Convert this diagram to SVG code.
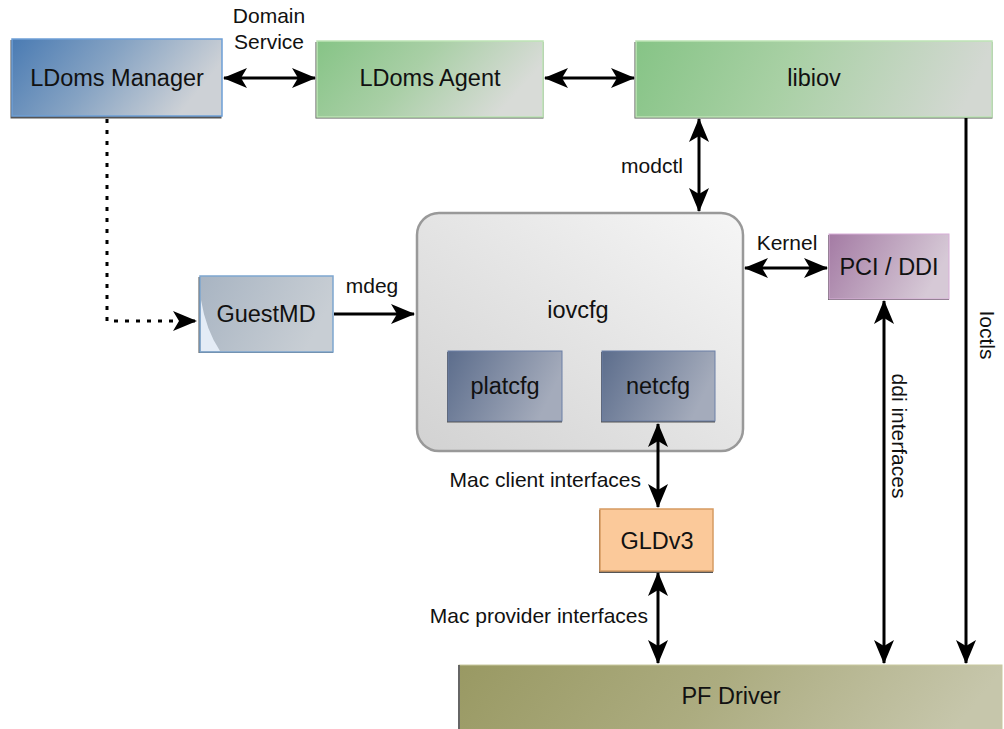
<svg xmlns="http://www.w3.org/2000/svg" width="1004" height="729" viewBox="0 0 1004 729">
<style>
.lbl{font-family:"Liberation Sans",Arial,sans-serif;font-size:21px;fill:#111}
.nt{font-family:"Liberation Sans",Arial,sans-serif;font-size:23.5px;fill:#111;text-anchor:middle}
.ln{fill:none;stroke:#000;stroke-width:3}
.sh{fill:#555}
</style>
<defs>
<marker id="ah" viewBox="0 0 24 20" refX="23" refY="10" markerWidth="24" markerHeight="20" markerUnits="userSpaceOnUse" orient="auto-start-reverse">
<path d="M0,0 L24,10 L0,20 L6,10 z" fill="#000"/>
</marker>
<linearGradient id="gBlue" x1="0" y1="0" x2="1" y2="0.3">
<stop offset="0" stop-color="#4a7bb3"/><stop offset="0.5" stop-color="#86a3c3"/><stop offset="1" stop-color="#cdd1d6"/>
</linearGradient>
<linearGradient id="gGreen" x1="0" y1="0" x2="1" y2="0.3">
<stop offset="0" stop-color="#86c486"/><stop offset="0.5" stop-color="#a9cfa6"/><stop offset="1" stop-color="#d8dbd7"/>
</linearGradient>
<linearGradient id="gGreen2" x1="0" y1="0" x2="1" y2="0.1">
<stop offset="0" stop-color="#86c486"/><stop offset="0.45" stop-color="#a8d0a4"/><stop offset="1" stop-color="#d3d8d2"/>
</linearGradient>
<linearGradient id="gGuest" x1="0" y1="0" x2="1" y2="0.3">
<stop offset="0" stop-color="#a8b4c2"/><stop offset="1" stop-color="#c8ced4"/>
</linearGradient>
<linearGradient id="gIov" x1="0" y1="1" x2="1" y2="0">
<stop offset="0" stop-color="#d2d2d2"/><stop offset="1" stop-color="#f6f6f6"/>
</linearGradient>
<linearGradient id="gCfg" x1="0" y1="0" x2="1" y2="0.3">
<stop offset="0" stop-color="#5c6d8c"/><stop offset="1" stop-color="#a4abbb"/>
</linearGradient>
<linearGradient id="gPci" x1="0" y1="0" x2="1" y2="0.3">
<stop offset="0" stop-color="#a47ba4"/><stop offset="1" stop-color="#d6c9d6"/>
</linearGradient>
<linearGradient id="gPf" x1="0" y1="0" x2="1" y2="0.1">
<stop offset="0" stop-color="#999963"/><stop offset="0.5" stop-color="#acac80"/><stop offset="1" stop-color="#c6c6ab"/>
</linearGradient>
</defs>

<g id="ldoms-manager">
<rect class="sh" x="10.5" y="40" width="211" height="78.5"/>
<rect x="12" y="39" width="210" height="77" fill="url(#gBlue)" stroke="#6d9fd6" stroke-width="1.5"/>
<text class="nt" x="117" y="86">LDoms Manager</text>
</g>
<g id="ldoms-agent">
<rect class="sh" x="315.5" y="42" width="228" height="76.5"/>
<rect x="317" y="41" width="226" height="76" fill="url(#gGreen)" stroke="#bde3b5" stroke-width="1.5"/>
<text class="nt" x="430" y="86">LDoms Agent</text>
</g>
<g id="libiov">
<rect class="sh" x="634.5" y="42" width="358" height="76.5"/>
<rect x="636" y="41" width="356" height="76" fill="url(#gGreen2)" stroke="#bde3b5" stroke-width="1.5"/>
<text class="nt" x="814" y="86">libiov</text>
</g>
<g id="guestmd">
<rect class="sh" x="198.5" y="277" width="134.5" height="76"/>
<rect x="200" y="276" width="133" height="76" fill="url(#gGuest)" stroke="#7ea6cf" stroke-width="1.5"/>
<path d="M201,300 Q206,330 220,351 L201,351 z" fill="#e4ecf6"/>
<text class="nt" x="266" y="322">GuestMD</text>
</g>
<g id="iovcfg">
<rect x="417" y="213" width="326" height="238" rx="22" ry="22" fill="url(#gIov)" stroke="#999" stroke-width="2.5"/>
<text class="nt" x="578" y="318">iovcfg</text>
</g>
<g id="platcfg">
<rect class="sh" x="447" y="352" width="115" height="70.5"/>
<rect x="448" y="351" width="114" height="70" fill="url(#gCfg)" stroke="#6a7fa6" stroke-width="1"/>
<text class="nt" x="505" y="394">platcfg</text>
</g>
<g id="netcfg">
<rect class="sh" x="601" y="352" width="114" height="70.5"/>
<rect x="602" y="351" width="113" height="70" fill="url(#gCfg)" stroke="#6a7fa6" stroke-width="1"/>
<text class="nt" x="658" y="394">netcfg</text>
</g>
<g id="pci-ddi">
<rect class="sh" x="828" y="235" width="121" height="65"/>
<rect x="829" y="234" width="120" height="65" fill="url(#gPci)" stroke="#d8aed8" stroke-width="1"/>
<text class="nt" x="889" y="275">PCI / DDI</text>
</g>
<g id="gldv3">
<rect class="sh" x="599" y="510" width="114" height="63"/>
<rect x="600" y="509" width="113" height="62" fill="#fbc99a" stroke="#d69b62" stroke-width="1.5"/>
<text class="nt" x="657" y="549">GLDv3</text>
</g>
<g id="pf-driver">
<rect x="459" y="665" width="543" height="66" fill="url(#gPf)" stroke="#c9c9a0" stroke-width="1"/>
<rect x="458" y="665" width="2" height="66" fill="#666"/>
<text class="nt" x="731" y="704">PF Driver</text>
</g>

<g id="connectors">
<line class="ln" x1="224" y1="78" x2="315" y2="78" marker-start="url(#ah)" marker-end="url(#ah)"/>
<line class="ln" x1="545" y1="78" x2="634" y2="78" marker-start="url(#ah)" marker-end="url(#ah)"/>
<line class="ln" x1="699" y1="119" x2="699" y2="211" marker-start="url(#ah)" marker-end="url(#ah)"/>
<path class="ln" d="M107,119 L107,321 L196,321" stroke-dasharray="4 7" marker-end="url(#ah)"/>
<line class="ln" x1="334" y1="314" x2="414" y2="314" marker-end="url(#ah)"/>
<line class="ln" x1="745" y1="268" x2="827" y2="268" marker-start="url(#ah)" marker-end="url(#ah)"/>
<line class="ln" x1="658" y1="424" x2="658" y2="507" marker-start="url(#ah)" marker-end="url(#ah)"/>
<line class="ln" x1="658" y1="573" x2="658" y2="663" marker-start="url(#ah)" marker-end="url(#ah)"/>
<line class="ln" x1="884" y1="301" x2="884" y2="663" marker-start="url(#ah)" marker-end="url(#ah)"/>
<line class="ln" x1="966" y1="118" x2="966" y2="663" marker-end="url(#ah)"/>
</g>

<g id="labels">
<text class="lbl" x="269" y="23" text-anchor="middle">Domain</text>
<text class="lbl" x="269" y="49" text-anchor="middle">Service</text>
<text class="lbl" x="652" y="173" text-anchor="middle">modctl</text>
<text class="lbl" x="372" y="293" text-anchor="middle">mdeg</text>
<text class="lbl" x="787" y="250" text-anchor="middle">Kernel</text>
<text class="lbl" x="641" y="487" text-anchor="end">Mac client interfaces</text>
<text class="lbl" x="648" y="623" text-anchor="end">Mac provider interfaces</text>
<text class="lbl" x="892" y="436" text-anchor="middle" transform="rotate(90 892 436)">ddi interfaces</text>
<text class="lbl" x="980" y="335" text-anchor="middle" transform="rotate(90 980 335)">Ioctls</text>
</g>
</svg>
